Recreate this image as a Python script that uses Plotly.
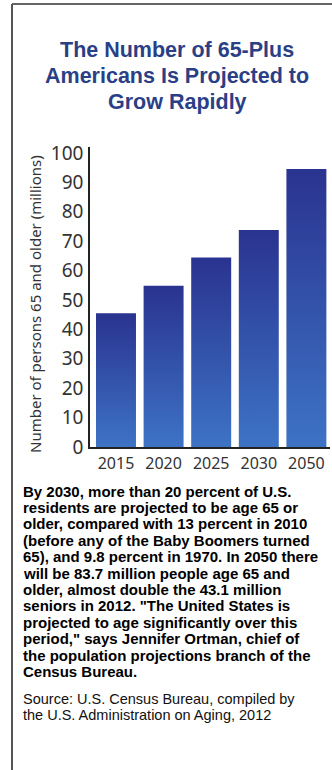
import plotly.graph_objects as go

years = ["2015", "2020", "2025", "2030", "2050"]
values = [45.5, 54.8, 64.4, 73.8, 94.5]
y_ticks = [0, 10, 20, 30, 40, 50, 60, 70, 80, 90, 100]

title_lines = ["The Number of 65-Plus", "Americans Is Projected to", "Grow Rapidly"]
y_title = "Number of persons 65 and older (millions)"
body_lines = [
    "By 2030, more than 20 percent of U.S.",
    "residents are projected to be age 65 or",
    "older, compared with 13 percent in 2010",
    "(before any of the Baby Boomers turned",
    "65), and 9.8 percent in 1970. In 2050 there",
    "will be 83.7 million people age 65 and",
    "older, almost double the 43.1 million",
    "seniors in 2012. \"The United States is",
    "projected to age significantly over this",
    "period,\" says Jennifer Ortman, chief of",
    "the population projections branch of the",
    "Census Bureau.",
]
source_lines = [
    "Source: U.S. Census Bureau, compiled by",
    "the U.S. Administration on Aging, 2012",
]

W, H = 332, 770
L, R, T, B = 90, 2, 147, 323
PW, PH = W - L - R, H - T - B
FONT = "Liberation Sans"


def px(x):
    return (x - L) / PW


def py(y):
    return (H - B - y) / PH


HALF = 0.42
fig = go.Figure()
for i, (yr, v) in enumerate(zip(years, values)):
    fig.add_trace(go.Scatter(
        x=[i - HALF, i + HALF, i + HALF, i - HALF, i - HALF],
        y=[0, 0, v, v, 0],
        mode="lines",
        line=dict(width=0),
        fill="toself",
        fillgradient=dict(type="vertical",
                          colorscale=[[0, "#3d73c5"], [1, "#2a3390"]]),
        name=yr,
        showlegend=False,
        hoverinfo="skip",
    ))

fig.update_layout(
    width=W, height=H,
    margin=dict(l=L, r=R, t=T, b=B, pad=0),
    paper_bgcolor="white", plot_bgcolor="white",
    xaxis=dict(range=[-0.546, 4.496], tickvals=list(range(len(years))), ticktext=years,
               showgrid=False, zeroline=False, showline=True, linecolor="#222", linewidth=1.5,
               ticks="", ticklabelstandoff=1,
               tickfont=dict(family="Noto Sans", size=16, color="#333"),
               fixedrange=True),
    yaxis=dict(range=[0, 102], tickvals=y_ticks, showgrid=False, zeroline=False,
               showline=True, linecolor="#222", linewidth=1.5, ticks="",
               ticklabelstandoff=1,
               tickfont=dict(family="Noto Sans", size=19, color="#333"), fixedrange=True),
    font=dict(family=FONT),
)

# frame lines
fig.add_shape(type="line", xref="paper", yref="paper", x0=px(12), x1=px(W + 5), y0=py(4), y1=py(4),
              line=dict(color="#666", width=2))
fig.add_shape(type="line", xref="paper", yref="paper", x0=px(12), x1=px(12), y0=py(4), y1=py(H + 5),
              line=dict(color="#555", width=2))


def add_lines(lines, x, y0, step, anchor, font):
    for k, s in enumerate(lines):
        fig.add_annotation(text=s, xref="paper", yref="paper", x=px(x), y=py(y0 + k * step),
                           xanchor=anchor, yanchor="middle", showarrow=False, font=font)


add_lines(title_lines, 177, 50, 26, "center",
          dict(family=FONT, size=21.5, color="#2b3f86", weight="bold"))

fig.add_annotation(text=y_title, xref="paper", yref="paper", x=px(35), y=py(304),
                   textangle=-90, xanchor="center", yanchor="middle", showarrow=False,
                   font=dict(family="Noto Sans", size=15, color="#333"))

add_lines(body_lines, 21, 491, 16.4, "left",
          dict(family=FONT, size=15, color="#000", weight="bold"))

add_lines(source_lines, 21, 699, 16.4, "left",
          dict(family=FONT, size=14.5, color="#111"))

fig.write_html("out.html")
